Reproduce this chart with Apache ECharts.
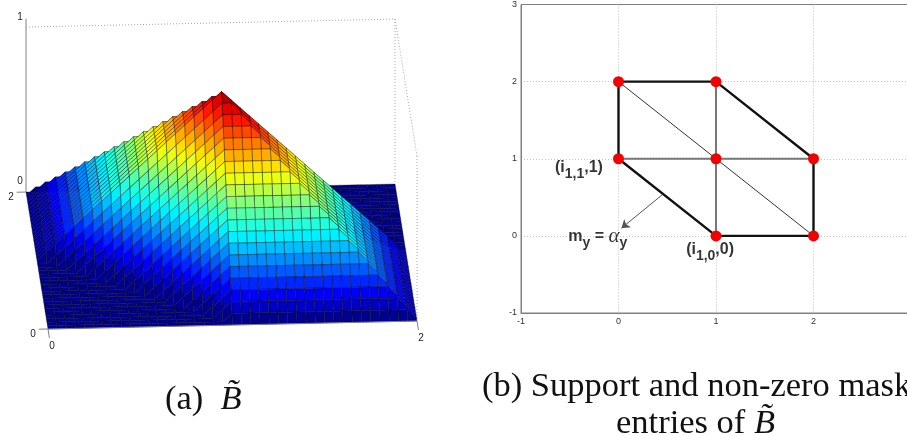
<!DOCTYPE html>
<html><head><meta charset="utf-8">
<style>html,body{margin:0;padding:0;background:#fff}#c{width:907px;height:436px}</style>
<script src="https://cdn.jsdelivr.net/npm/echarts@6/dist/echarts.min.js"></script>
</head><body><div id="c"></div>
<script>
// Surface heights, in twentieths of the z axis; row = y index, column = x index
const surfaceTwentieths = [
[0,0,0,0,0,0,0,0,0,0,0,0,0,0,0,0,0,0,0,0,0,0,0,0,0,0,0,0,0,0,0,0,0,0,0,0,0,0,0,0,0],
[0,0,0,0,0,0,0,0,0,0,0,0,0,0,0,0,0,0,0,0,1,1,1,1,1,1,1,1,1,1,1,1,1,1,1,1,1,1,1,1,0],
[0,0,0,0,0,0,0,0,0,0,0,0,0,0,0,0,0,0,0,1,2,2,2,2,2,2,2,2,2,2,2,2,2,2,2,2,2,2,2,1,0],
[0,0,0,0,0,0,0,0,0,0,0,0,0,0,0,0,0,0,1,2,3,3,3,3,3,3,3,3,3,3,3,3,3,3,3,3,3,3,2,1,0],
[0,0,0,0,0,0,0,0,0,0,0,0,0,0,0,0,0,1,2,3,4,4,4,4,4,4,4,4,4,4,4,4,4,4,4,4,4,3,2,1,0],
[0,0,0,0,0,0,0,0,0,0,0,0,0,0,0,0,1,2,3,4,5,5,5,5,5,5,5,5,5,5,5,5,5,5,5,5,4,3,2,1,0],
[0,0,0,0,0,0,0,0,0,0,0,0,0,0,0,1,2,3,4,5,6,6,6,6,6,6,6,6,6,6,6,6,6,6,6,5,4,3,2,1,0],
[0,0,0,0,0,0,0,0,0,0,0,0,0,0,1,2,3,4,5,6,7,7,7,7,7,7,7,7,7,7,7,7,7,7,6,5,4,3,2,1,0],
[0,0,0,0,0,0,0,0,0,0,0,0,0,1,2,3,4,5,6,7,8,8,8,8,8,8,8,8,8,8,8,8,8,7,6,5,4,3,2,1,0],
[0,0,0,0,0,0,0,0,0,0,0,0,1,2,3,4,5,6,7,8,9,9,9,9,9,9,9,9,9,9,9,9,8,7,6,5,4,3,2,1,0],
[0,0,0,0,0,0,0,0,0,0,0,1,2,3,4,5,6,7,8,9,10,10,10,10,10,10,10,10,10,10,10,9,8,7,6,5,4,3,2,1,0],
[0,0,0,0,0,0,0,0,0,0,1,2,3,4,5,6,7,8,9,10,11,11,11,11,11,11,11,11,11,11,10,9,8,7,6,5,4,3,2,1,0],
[0,0,0,0,0,0,0,0,0,1,2,3,4,5,6,7,8,9,10,11,12,12,12,12,12,12,12,12,12,11,10,9,8,7,6,5,4,3,2,1,0],
[0,0,0,0,0,0,0,0,1,2,3,4,5,6,7,8,9,10,11,12,13,13,13,13,13,13,13,13,12,11,10,9,8,7,6,5,4,3,2,1,0],
[0,0,0,0,0,0,0,1,2,3,4,5,6,7,8,9,10,11,12,13,14,14,14,14,14,14,14,13,12,11,10,9,8,7,6,5,4,3,2,1,0],
[0,0,0,0,0,0,1,2,3,4,5,6,7,8,9,10,11,12,13,14,15,15,15,15,15,15,14,13,12,11,10,9,8,7,6,5,4,3,2,1,0],
[0,0,0,0,0,1,2,3,4,5,6,7,8,9,10,11,12,13,14,15,16,16,16,16,16,15,14,13,12,11,10,9,8,7,6,5,4,3,2,1,0],
[0,0,0,0,1,2,3,4,5,6,7,8,9,10,11,12,13,14,15,16,17,17,17,17,16,15,14,13,12,11,10,9,8,7,6,5,4,3,2,1,0],
[0,0,0,1,2,3,4,5,6,7,8,9,10,11,12,13,14,15,16,17,18,18,18,17,16,15,14,13,12,11,10,9,8,7,6,5,4,3,2,1,0],
[0,0,1,2,3,4,5,6,7,8,9,10,11,12,13,14,15,16,17,18,19,19,18,17,16,15,14,13,12,11,10,9,8,7,6,5,4,3,2,1,0],
[0,1,2,3,4,5,6,7,8,9,10,11,12,13,14,15,16,17,18,19,20,19,18,17,16,15,14,13,12,11,10,9,8,7,6,5,4,3,2,1,0],
[0,1,2,3,4,5,6,7,8,9,10,11,12,13,14,15,16,17,18,19,19,18,17,16,15,14,13,12,11,10,9,8,7,6,5,4,3,2,1,0,0],
[0,1,2,3,4,5,6,7,8,9,10,11,12,13,14,15,16,17,18,18,18,17,16,15,14,13,12,11,10,9,8,7,6,5,4,3,2,1,0,0,0],
[0,1,2,3,4,5,6,7,8,9,10,11,12,13,14,15,16,17,17,17,17,16,15,14,13,12,11,10,9,8,7,6,5,4,3,2,1,0,0,0,0],
[0,1,2,3,4,5,6,7,8,9,10,11,12,13,14,15,16,16,16,16,16,15,14,13,12,11,10,9,8,7,6,5,4,3,2,1,0,0,0,0,0],
[0,1,2,3,4,5,6,7,8,9,10,11,12,13,14,15,15,15,15,15,15,14,13,12,11,10,9,8,7,6,5,4,3,2,1,0,0,0,0,0,0],
[0,1,2,3,4,5,6,7,8,9,10,11,12,13,14,14,14,14,14,14,14,13,12,11,10,9,8,7,6,5,4,3,2,1,0,0,0,0,0,0,0],
[0,1,2,3,4,5,6,7,8,9,10,11,12,13,13,13,13,13,13,13,13,12,11,10,9,8,7,6,5,4,3,2,1,0,0,0,0,0,0,0,0],
[0,1,2,3,4,5,6,7,8,9,10,11,12,12,12,12,12,12,12,12,12,11,10,9,8,7,6,5,4,3,2,1,0,0,0,0,0,0,0,0,0],
[0,1,2,3,4,5,6,7,8,9,10,11,11,11,11,11,11,11,11,11,11,10,9,8,7,6,5,4,3,2,1,0,0,0,0,0,0,0,0,0,0],
[0,1,2,3,4,5,6,7,8,9,10,10,10,10,10,10,10,10,10,10,10,9,8,7,6,5,4,3,2,1,0,0,0,0,0,0,0,0,0,0,0],
[0,1,2,3,4,5,6,7,8,9,9,9,9,9,9,9,9,9,9,9,9,8,7,6,5,4,3,2,1,0,0,0,0,0,0,0,0,0,0,0,0],
[0,1,2,3,4,5,6,7,8,8,8,8,8,8,8,8,8,8,8,8,8,7,6,5,4,3,2,1,0,0,0,0,0,0,0,0,0,0,0,0,0],
[0,1,2,3,4,5,6,7,7,7,7,7,7,7,7,7,7,7,7,7,7,6,5,4,3,2,1,0,0,0,0,0,0,0,0,0,0,0,0,0,0],
[0,1,2,3,4,5,6,6,6,6,6,6,6,6,6,6,6,6,6,6,6,5,4,3,2,1,0,0,0,0,0,0,0,0,0,0,0,0,0,0,0],
[0,1,2,3,4,5,5,5,5,5,5,5,5,5,5,5,5,5,5,5,5,4,3,2,1,0,0,0,0,0,0,0,0,0,0,0,0,0,0,0,0],
[0,1,2,3,4,4,4,4,4,4,4,4,4,4,4,4,4,4,4,4,4,3,2,1,0,0,0,0,0,0,0,0,0,0,0,0,0,0,0,0,0],
[0,1,2,3,3,3,3,3,3,3,3,3,3,3,3,3,3,3,3,3,3,2,1,0,0,0,0,0,0,0,0,0,0,0,0,0,0,0,0,0,0],
[0,1,2,2,2,2,2,2,2,2,2,2,2,2,2,2,2,2,2,2,2,1,0,0,0,0,0,0,0,0,0,0,0,0,0,0,0,0,0,0,0],
[0,1,1,1,1,1,1,1,1,1,1,1,1,1,1,1,1,1,1,1,1,0,0,0,0,0,0,0,0,0,0,0,0,0,0,0,0,0,0,0,0],
[0,0,0,0,0,0,0,0,0,0,0,0,0,0,0,0,0,0,0,0,0,0,0,0,0,0,0,0,0,0,0,0,0,0,0,0,0,0,0,0,0]
];
const meshStep = 0.05;
const zUnit = 20;

// Panel (a) frame, as [x,y,z] pairs
const solidFrame = [
  [[0,0,0],[2,0,0]], [[0,2,0],[0,2,1.05]],
  [[0,0,0],[-0.05,0,0]], [[0,2,0],[-0.05,2,0]], [[0,0,0],[0,-0.13,0]], [[2,0,0],[2,-0.13,0]]
];
const dottedFrame = [
  [[0,2,1],[2,2,1]], [[2,2,1],[2,2,0]], [[2,2,1],[2,0,1]], [[2,0,1],[2,0,0]]
];
// [x, y, z, text, dx, dy]
const frameLabels = [
  [0,2,1,'1',-6,-10], [0,2,0,'0',-6,-11], [0,2,0,'2',-15,5],
  [0,0,0,'0',-15,5], [0,0,0,'0',4,17], [2,0,0,'2',4,17]
];

// Panel (b)
const outlineEdges = [[0,1],[0,2],[1,2],[2,1],[2,0],[1,0],[0,1]];
const horizontalEdge = [[0,1],[2,1]];
const verticalEdge = [[1,0],[1,2]];
const diagonalEdge = [[0,2],[2,0]];
const maskNodes = [[0,2],[1,2],[0,1],[1,1],[2,1],[1,0],[2,0]];
const arrowFrom = [0.446,0.53];
const arrowTo = [0.03,0.10];
const pointLabels = [
  {value:[-0.16,0.88], text:'{b|(i}{s|1,1}{b|,1)}'},
  {value:[0.09,-0.01], text:'{b|m}{s|y}{b| = }{g|α}{s|y}'},
  {value:[1.185,-0.18], text:'{b|(i}{s|1,0}{b|,0)}'}
];
const tickValuesB = [-1,0,1,2,3];

// View of panel (a): screen direction of each data axis
const viewH = (x,y,z)=> x - 0.0596*y;
const viewW = (x,y,z)=> 0.0242*x + 0.415*y + z;
function jet(z){
  const t = (1+z*63)/64;
  const c = v => Math.round(255*Math.max(0,Math.min(1,v)));
  const r = 1.5-Math.abs(4*t-3), g = 1.5-Math.abs(4*t-2), b = 1.5-Math.abs(4*t-1);
  return 'rgb('+c(r)+','+c(g)+','+c(b)+')';
}
const cells = [];
for (let j=surfaceTwentieths.length-2;j>=0;j--)
  for (let i=surfaceTwentieths[0].length-2;i>=0;i--) cells.push([i,j]);

function project(api,p){ return api.coord([viewH(p[0],p[1],p[2]), viewW(p[0],p[1],p[2])]); }
function corner(i,j){ return [i*meshStep, j*meshStep, surfaceTwentieths[j][i]/zUnit]; }

const chart = echarts.init(document.getElementById('c'),null,{renderer:'canvas'});
const hiddenAxis = {show:false};
const rich = {
  b:{fontFamily:'Liberation Sans',fontWeight:'bold',fontSize:16,color:'#000'},
  s:{fontFamily:'Liberation Sans',fontWeight:'bold',fontSize:14,color:'#000',padding:[13,0,0,0]},
  g:{fontFamily:'Liberation Serif',fontStyle:'italic',fontSize:21,color:'#000'}
};
const captionFont = {fontFamily:'Liberation Serif',fontSize:34.5,fill:'#111',rich:{i:{fontFamily:'Liberation Serif',fontStyle:'italic',fontSize:34.5,fill:'#111'}}};
const frameLine = {show:true,onZero:false,lineStyle:{color:'#808080',width:1}};
const dotLine = {show:true,showMinLine:false,showMaxLine:false,lineStyle:{color:'#c4c4c4',type:[1,2],width:1}};
chart.setOption({
  animation:false,
  backgroundColor:'#fff',
  grid:[
    {outerBoundsMode:'none',left:11.1,top:-1,width:442.8,height:346.5,show:false},
    {outerBoundsMode:'none',left:521,top:4.5,width:390,height:308.5,show:true,borderColor:'#808080',borderWidth:1,backgroundColor:'transparent'}
  ],
  xAxis:[
    {type:'value',gridIndex:0,min:-0.2,max:2.2,...hiddenAxis},
    {type:'value',gridIndex:1,min:tickValuesB[0],max:3,interval:1,
     axisLine:frameLine,axisTick:{show:false},
     axisLabel:{color:'#333',fontSize:9,fontFamily:'Liberation Sans',margin:4,hideOverlap:false,showMaxLabel:false},
     splitLine:dotLine}
  ],
  yAxis:[
    {type:'value',gridIndex:0,min:-0.1,max:2,...hiddenAxis},
    {type:'value',gridIndex:1,min:tickValuesB[0],max:3,interval:1,
     axisLine:frameLine,axisTick:{show:false},
     axisLabel:{color:'#333',fontSize:9,fontFamily:'Liberation Sans',margin:4},
     splitLine:dotLine}
  ],
  graphic:[
    {type:'text',left:165,top:382,style:{text:'(a)  {i|B\u0303}',...captionFont}},
    {type:'text',left:482,top:369,style:{text:'(b) Support and non-zero mask',...captionFont}},
    {type:'text',left:616,top:406,style:{text:'entries of {i|B\u0303}',...captionFont}}
  ],
  series:[
    {type:'custom',xAxisIndex:0,yAxisIndex:0,z:1,clip:false,silent:true,data:dottedFrame.map((_,k)=>[k,0]),
     renderItem(params,api){
       const s=dottedFrame[api.value(0)], a=project(api,s[0]), b=project(api,s[1]);
       return {type:'line',shape:{x1:a[0],y1:a[1],x2:b[0],y2:b[1]},style:{stroke:'#a8a8a8',lineWidth:1,lineDash:[1,2]}};
     }},
    {type:'custom',xAxisIndex:0,yAxisIndex:0,z:2,clip:false,silent:true,progressive:0,data:cells,
     renderItem(params,api){
       const i=api.value(0), j=api.value(1);
       const pts=[corner(i,j),corner(i+1,j),corner(i+1,j+1),corner(i,j+1)].map(p=>project(api,p));
       return {type:'polygon',shape:{points:pts},
         style:{fill:jet(surfaceTwentieths[j][i]/zUnit),stroke:'rgba(0,0,0,0.5)',lineWidth:0.7}};
     }},
    {type:'custom',xAxisIndex:0,yAxisIndex:0,z:3,clip:false,silent:true,data:solidFrame.map((_,k)=>[k,0]),
     renderItem(params,api){
       const s=solidFrame[api.value(0)], a=project(api,s[0]), b=project(api,s[1]);
       return {type:'line',shape:{x1:a[0],y1:a[1],x2:b[0],y2:b[1]},style:{stroke:'#808080',lineWidth:1}};
     }},
    {type:'custom',xAxisIndex:0,yAxisIndex:0,z:4,clip:false,silent:true,data:frameLabels.map((_,k)=>[k,0]),
     renderItem(params,api){
       const l=frameLabels[api.value(0)], a=project(api,l);
       return {type:'text',x:a[0]+l[4],y:a[1]+l[5],style:{text:l[3],fill:'#222',font:'10px "Liberation Sans"',align:'center',verticalAlign:'middle'}};
     }},
    {type:'line',xAxisIndex:1,yAxisIndex:1,z:3,data:diagonalEdge,symbol:'none',lineStyle:{color:'#333',width:1}},
    {type:'line',xAxisIndex:1,yAxisIndex:1,z:3,data:horizontalEdge,symbol:'none',lineStyle:{color:'#777',width:2}},
    {type:'line',xAxisIndex:1,yAxisIndex:1,z:3,data:verticalEdge,symbol:'none',lineStyle:{color:'#777',width:2}},
    {type:'line',xAxisIndex:1,yAxisIndex:1,z:4,data:outlineEdges,symbol:'none',lineStyle:{color:'#111',width:2.4}},
    {type:'line',xAxisIndex:1,yAxisIndex:1,z:4,data:[arrowFrom,arrowTo],symbol:'none',lineStyle:{width:0},
     markLine:{silent:true,symbol:['none','arrow'],symbolSize:8,label:{show:false},animation:false,
       lineStyle:{color:'#555',width:1,type:'solid'},
       data:[[{coord:arrowFrom},{coord:arrowTo}]]}},
    {type:'scatter',xAxisIndex:1,yAxisIndex:1,z:5,data:maskNodes,symbolSize:11,itemStyle:{color:'#f40000',opacity:1}},
    {type:'scatter',xAxisIndex:1,yAxisIndex:1,z:6,symbolSize:0,silent:true,
     data:pointLabels.map(p=>({value:p.value,label:{show:true,position:'left',distance:0,formatter:p.text,rich}}))}
  ]
});
</script></body></html>
